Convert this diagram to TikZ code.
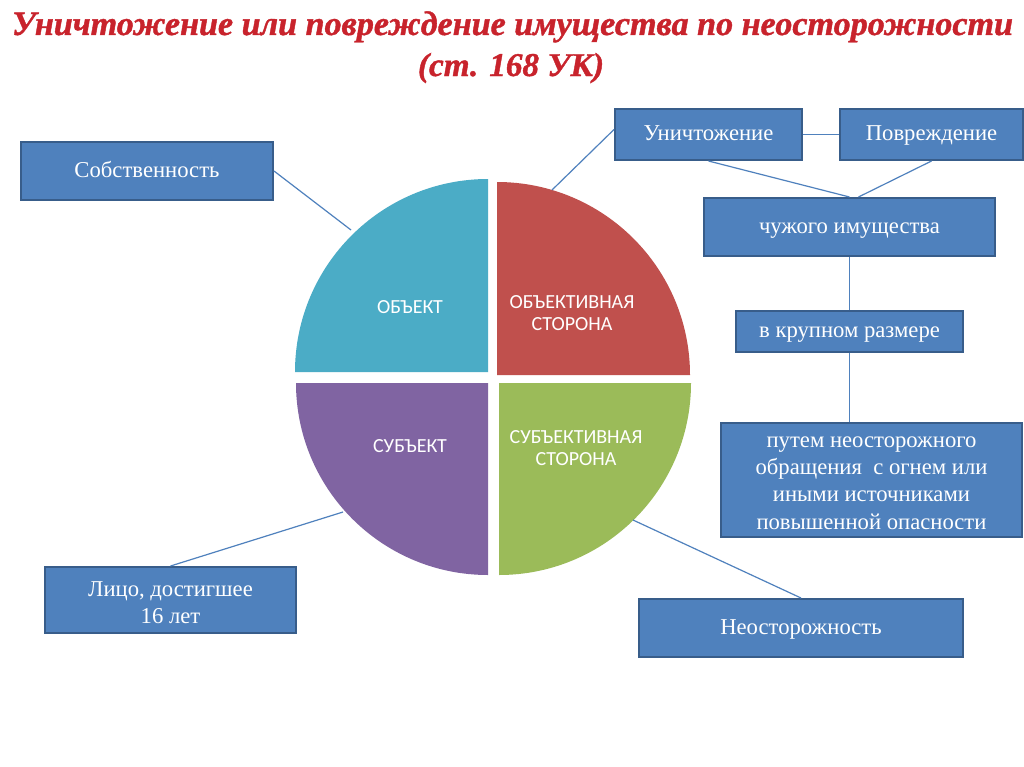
\documentclass[tikz,border=0pt]{standalone}
\usepackage{fontspec}
\setmainfont{Liberation Serif}
\newfontfamily\piefont{Carlito}
\newfontfamily\titlefont[FakeBold=1.2]{Liberation Serif Bold Italic}
\usetikzlibrary{calc}
\definecolor{boxblue}{HTML}{4F81BD}
\definecolor{boxedge}{HTML}{385D8A}
\definecolor{pcyan}{HTML}{4BACC6}
\definecolor{pred}{HTML}{C0504D}
\definecolor{ppurple}{HTML}{8064A2}
\definecolor{pgreen}{HTML}{9BBB59}
\definecolor{titlered}{HTML}{C8232C}
\begin{document}
\begin{tikzpicture}[x=0.75pt,y=-0.75pt,
  blk/.style={draw=boxedge, line width=1.5pt, fill=boxblue, text=white, align=center, inner sep=0pt, font=\fontsize{17}{20.5}\selectfont},
  one/.style={text height=12.3pt, text depth=3pt},
  boxtext/.style={text=white, align=center, inner sep=0pt, font=\fontsize{17}{20.5}\selectfont},
  link/.style={draw=boxblue, line width=0.9pt},
  plabel/.style={text=white, align=center, font=\piefont\fontsize{15}{16.5}\selectfont},
  ttl/.style={text=titlered, anchor=base, inner sep=0pt, font=\titlefont\fontsize{26}{30}\selectfont}
]
\useasboundingbox[fill=white] (0,0) rectangle (1024,767);

% title
\node[ttl] (t1) at (512.5,35) {\resizebox{750.75pt}{!}{Уничтожение или повреждение имущества по неосторожности}};
\node[ttl] (t2) at (511,76) {\resizebox{139.5pt}{!}{(ст. 168 УК)}};

% pie quadrants
\fill[pcyan] (488,372) -- (295,372) arc[start angle=180, end angle=270, radius=193] -- cycle;
\fill[pred] (497,375) -- (497,182) arc[start angle=270, end angle=360, radius=193] -- cycle;
\fill[ppurple] (488,383) -- (296,383) arc[start angle=180, end angle=90, radius=192] -- cycle;
\fill[pgreen] (499,383) -- (691,383) arc[start angle=0, end angle=90, radius=192] -- cycle;

\node[plabel] (obj) at (410,307) {ОБЪЕКТ};
\node[plabel] (objs) at (572,313) {ОБЪЕКТИВНАЯ\\СТОРОНА};
\node[plabel] (subj) at (410,446) {СУБЪЕКТ};
\node[plabel] (subjs) at (576,448) {СУБЪЕКТИВНАЯ\\СТОРОНА};

\coordinate (pTL) at (351,230);
\coordinate (pTR) at (552,190);
\coordinate (pBL) at (343,512);
\coordinate (pBR) at (633,520);

% boxes
\node[blk, one, minimum width=189pt, minimum height=43.5pt] (sob) at (147,171) {Собственность};
\node[blk, one, minimum width=140.25pt, minimum height=38.25pt] (unich) at (708.5,134.5) {Уничтожение};
\node[blk, one, minimum width=137.25pt, minimum height=38.25pt] (povr) at (931.5,134.5) {Повреждение};
\node[blk, one, minimum width=218.25pt, minimum height=43.5pt] (chuzh) at (849.5,227) {чужого имущества};
\node[blk, one, minimum width=170.25pt, minimum height=30.75pt] (krup) at (849.5,331.5) {в крупном размере};
\node[blk, minimum width=225.75pt, minimum height=85.5pt] (put) at (871.5,480) {};
\node[boxtext] (putt) at (871.5,483) {путем неосторожного\\обращения\ \ с огнем или\\иными источниками\\повышенной опасности};
\node[blk, minimum width=188.25pt, minimum height=49.5pt] (lico) at (170.5,600) {};
\node[boxtext] (licot) at (170.5,603) {Лицо, достигшее\\16 лет};
\node[blk, one, minimum width=243pt, minimum height=43.5pt] (neost) at (801,628) {Неосторожность};

% connectors
\draw[link] (sob.east) -- (pTL);
\draw[link] ($(unich.west)+(0,-5)$) -- (pTR);
\draw[link] (unich.east) -- (povr.west);
\draw[link] (unich.south) -- (chuzh.north);
\draw[link] (povr.south) -- ($(chuzh.north)+(9,0)$);
\draw[link] (chuzh.south) -- (krup.north);
\draw[link] (krup.south) -- (krup.south |- put.north);
\draw[link] (lico.north) -- (pBL);
\draw[link] (neost.north) -- (pBR);
\end{tikzpicture}
\end{document}
